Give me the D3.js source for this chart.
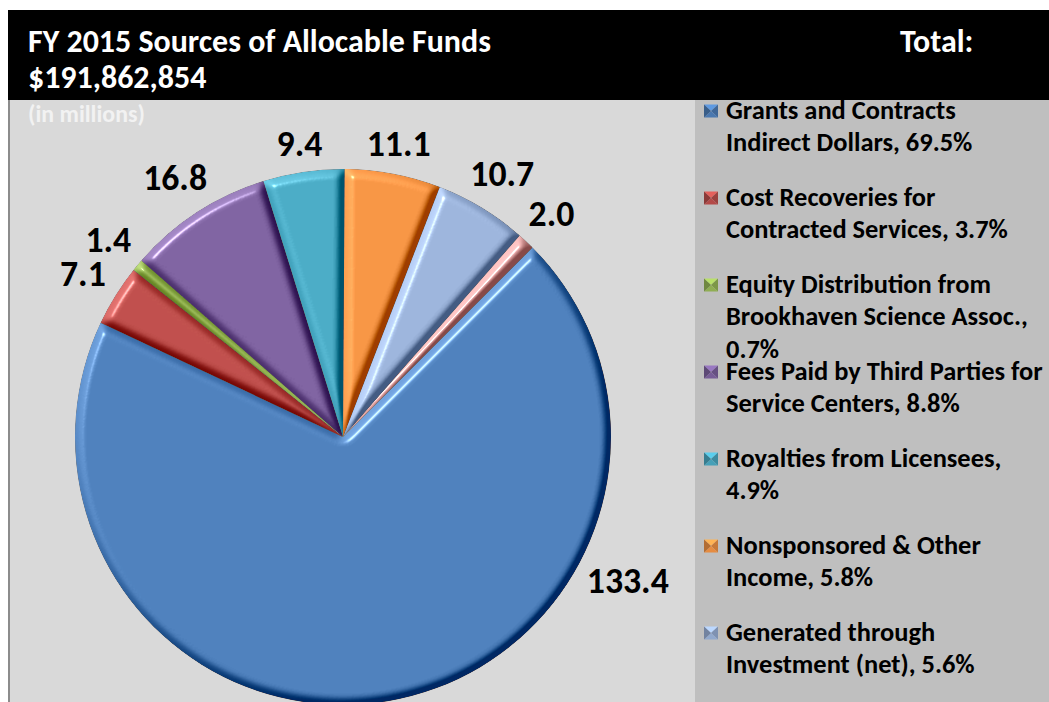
<!DOCTYPE html>
<html>
<head>
<meta charset="utf-8">
<script src="https://cdn.jsdelivr.net/npm/d3@7"></script>
<style>
  html, body { margin: 0; padding: 0; background: #ffffff; }
  svg { display: block; }
  text { font-family: Carlito, Calibri, Lato, "Open Sans", sans-serif; font-weight: bold; }
</style>
</head>
<body>
<svg id="chart" width="1049" height="702"></svg>
<script>
// ---------------- data ----------------
const categories = [
  "Grants and Contracts Indirect Dollars",
  "Cost Recoveries for Contracted Services",
  "Equity Distribution from Brookhaven Science Assoc.",
  "Fees Paid by Third Parties for Service Centers",
  "Royalties from Licensees",
  "Nonsponsored & Other Income",
  "Generated through Investment (net)",
  "Other Sources"
];
const values = [133.4, 7.1, 1.4, 16.8, 9.4, 11.1, 10.7, 2.0];
// legend text as wrapped in the original; {p} is replaced by the share of the total
const legendLines = [
  ["Grants and Contracts", "Indirect Dollars, {p}"],
  ["Cost Recoveries for", "Contracted Services, {p}"],
  ["Equity Distribution from", "Brookhaven Science Assoc.,", "{p}"],
  ["Fees Paid by Third Parties for", "Service Centers, {p}"],
  ["Royalties from Licensees,", "{p}"],
  ["Nonsponsored & Other", "Income, {p}"],
  ["Generated through", "Investment (net), {p}"],
  ["Other Sources, {p}"]
];
const colors = ["#4F81BD", "#C0504D", "#9BBB59", "#8064A2", "#4BACC6", "#F79646", "#9DB5DC", "#E0A3A2"];
const titleLine1 = "FY 2015 Sources of Allocable Funds";
const titleLine2 = "$191,862,854";
const titleRight = "Total:";
const unitsText = "(in millions)";
const firstSliceAngle = 45; // degrees, clockwise from 12 o'clock

// ---------------- layout ----------------
const W = 1049, H = 702;
const header = {x: 8, y: 10, h: 90};
const plotRight = 695;
const pieC = {x: 343, y: 437}, R = 268;
const labelGap = 13, labelMaxY = 582;
const legend = {markerX: 704, textX: 726, firstY: 110, step: 87, lineH: 32.5};

const svg = d3.select("#chart");

// measure helper to fit a font size to a target width
function fitSize(str, target) {
  const t = svg.append("text").attr("font-size", 100).text(str);
  const w = t.node().getComputedTextLength();
  t.remove();
  return 100 * target / w;
}
const titleSize = fitSize(titleLine1, 463);
const legendSize = fitSize("Brookhaven Science Assoc.,", 302);
const labelSize = fitSize("133.4", 82);
const unitsSize = fitSize(unitsText, 117);

// ---------------- defs ----------------
const defs = svg.append("defs");
const f = defs.append("filter").attr("id", "bevel")
  .attr("x", "-5%").attr("y", "-5%").attr("width", "110%").attr("height", "110%")
  .attr("color-interpolation-filters", "sRGB");
f.append("feGaussianBlur").attr("in", "SourceAlpha").attr("stdDeviation", 4).attr("result", "b");
const dl = f.append("feDiffuseLighting").attr("in", "b").attr("surfaceScale", 10)
  .attr("diffuseConstant", 0.7071).attr("lighting-color", "#ffffff").attr("result", "d");
dl.append("feDistantLight").attr("azimuth", 225).attr("elevation", 45);
const sl = f.append("feSpecularLighting").attr("in", "b").attr("surfaceScale", 10)
  .attr("specularConstant", 0.9).attr("specularExponent", 60).attr("lighting-color", "#ffffff").attr("result", "s");
sl.append("feDistantLight").attr("azimuth", 225).attr("elevation", 40);
f.append("feComposite").attr("in", "SourceGraphic").attr("in2", "d").attr("operator", "arithmetic")
  .attr("k1", 0).attr("k2", 1).attr("k3", 0.7).attr("k4", -0.35).attr("result", "lit");
f.append("feComposite").attr("in", "s").attr("in2", "SourceAlpha").attr("operator", "in").attr("result", "s2");
f.append("feComposite").attr("in", "lit").attr("in2", "s2").attr("operator", "arithmetic")
  .attr("k1", 0).attr("k2", 1).attr("k3", 0.5).attr("k4", 0).attr("result", "lit2");
f.append("feComposite").attr("in", "lit2").attr("in2", "SourceAlpha").attr("operator", "in");

// ---------------- backgrounds ----------------
svg.append("rect").attr("x", header.x).attr("y", header.y + header.h)
  .attr("width", plotRight - header.x).attr("height", H - header.y - header.h).attr("fill", "#d9d9d9");
svg.append("rect").attr("x", plotRight).attr("y", header.y + header.h)
  .attr("width", W - plotRight).attr("height", H - header.y - header.h).attr("fill", "#bfbfbf");
svg.append("line").attr("x1", header.x + 1).attr("x2", header.x + 1)
  .attr("y1", header.y + header.h).attr("y2", H).attr("stroke", "#8c8c8c").attr("stroke-width", 2);

// ---------------- pie ----------------
const total = d3.sum(values);
const a0 = firstSliceAngle * Math.PI / 180;
const pie = d3.pie().sort(null).value(d => d).startAngle(a0).endAngle(a0 + 2 * Math.PI);
const arcs = pie(values);
const arc = d3.arc().innerRadius(0).outerRadius(R);
const g = svg.append("g").attr("transform", `translate(${pieC.x},${pieC.y})`);
g.selectAll("path.slice").data(arcs).enter().append("path")
  .attr("class", "slice")
  .attr("d", arc)
  .attr("fill", (d, i) => colors[i])
  .attr("filter", "url(#bevel)");

// data labels (outside end, kept inside the plot area)
const fmtVal = d3.format(".1f");
arcs.forEach((d, i) => {
  const txt = fmtVal(values[i]);
  const t = g.append("text").attr("font-size", labelSize).attr("fill", "#000").text(txt);
  const w = t.node().getComputedTextLength();
  const h = labelSize * 0.64;
  const mid = (d.startAngle + d.endAngle) / 2;
  const dx = Math.sin(mid), dy = -Math.cos(mid);
  const dist = R + labelGap + Math.abs(dx) * w / 2 + Math.abs(dy) * h / 2;
  let cx = dx * dist, cy = dy * dist;
  if (pieC.y + cy > labelMaxY) {
    cy = labelMaxY - pieC.y;
    const top = cy - h / 2;
    const rr = R + labelGap - 3;
    const x0 = Math.sqrt(Math.max(0, rr * rr - top * top));
    cx = (dx >= 0 ? x0 + w / 2 : -x0 - w / 2);
  }
  t.attr("x", cx).attr("y", cy + h / 2).attr("text-anchor", "middle");
});

// ---------------- legend ----------------
const fmtPct = d3.format(".1%");
const lg = svg.append("g");
legendLines.forEach((lines, i) => {
  const yc = legend.firstY + i * legend.step;
  if (yc + legendSize > H) return; // entries that overflow the chart area are not shown
  const c = d3.color(colors[i]);
  const mx = legend.markerX, mw = 14, mh = 13, my = yc - mh / 2 + 1;
  const cxm = mx + mw / 2, cym = my + mh / 2;
  const tri = [
    [[mx, my], [mx + mw, my], [cxm, cym], c.brighter(0.5)],
    [[mx + mw, my], [mx + mw, my + mh], [cxm, cym], c.darker(0.6)],
    [[mx + mw, my + mh], [mx, my + mh], [cxm, cym], c.darker(0.2)],
    [[mx, my + mh], [mx, my], [cxm, cym], c.darker(0.9)]
  ];
  tri.forEach(tr => {
    lg.append("path").attr("d", d3.line()([tr[0], tr[1], tr[2]]) + "Z").attr("fill", tr[3]);
  });
  lines.forEach((ln, j) => {
    lg.append("text").attr("x", legend.textX).attr("y", yc + j * legend.lineH + legendSize * 0.33)
      .attr("font-size", legendSize).attr("fill", "#000")
      .text(ln.replace("{p}", fmtPct(values[i] / total)));
  });
});

// ---------------- header ----------------
svg.append("rect").attr("x", header.x).attr("y", header.y)
  .attr("width", W - header.x).attr("height", header.h).attr("fill", "#000");
svg.append("text").attr("x", 28).attr("y", 52).attr("font-size", titleSize).attr("fill", "#fff").text(titleLine1);
svg.append("text").attr("x", 28).attr("y", 88).attr("font-size", titleSize).attr("fill", "#fff").text(titleLine2);
svg.append("text").attr("x", 900).attr("y", 52).attr("font-size", titleSize).attr("fill", "#fff").text(titleRight);
svg.append("text").attr("x", 28).attr("y", 122).attr("font-size", unitsSize).attr("fill", "#f2f2f2").text(unitsText);
</script>
</body>
</html>
